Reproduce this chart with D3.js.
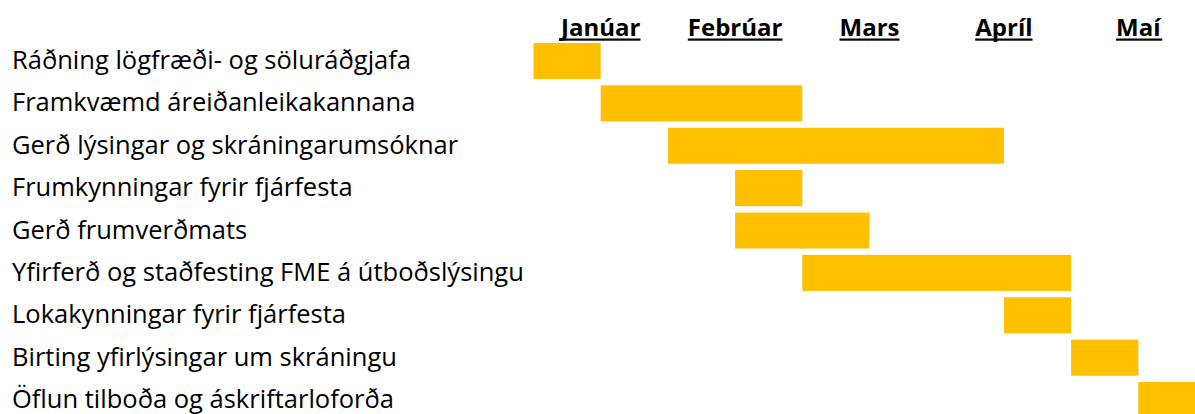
<!DOCTYPE html>
<html>
<head>
<meta charset="utf-8">
<script src="https://cdn.jsdelivr.net/npm/d3@7"></script>
<style>
  body { margin: 0; background: #fff; }
  text { font-family: "Open Sans", Lato, sans-serif; fill: #000; }
</style>
</head>
<body>
<div id="main"></div>
<script>
// tasks and their start/end in half-month steps (0 = start of January)
var tasks = [
    "Ráðning lögfræði- og söluráðgjafa",
    "Framkvæmd áreiðanleikakannana",
    "Gerð lýsingar og skráningarumsóknar",
    "Frumkynningar fyrir fjárfesta",
    "Gerð frumverðmats",
    "Yfirferð og staðfesting FME á útboðslýsingu",
    "Lokakynningar fyrir fjárfesta",
    "Birting yfirlýsingar um skráningu",
    "Öflun tilboða og áskriftarloforða"
];
var starts = [0, 1, 2, 3, 3, 4, 7, 8, 9];
var ends = [1, 4, 7, 4, 5, 8, 8, 9, 10];
var months = ["Janúar", "Febrúar", "Mars", "Apríl", "Maí"];

var ctx = { w: 1195, h: 414, left: 533.5, right: 1205.5, top: 43, rowStep: 42.375 };

var svg = d3.select("#main").append("svg")
    .attr("width", ctx.w)
    .attr("height", ctx.h);

var x = d3.scaleLinear()
    .domain([0, months.length * 2])
    .range([ctx.left, ctx.right]);

var y = d3.scaleBand()
    .domain(tasks)
    .range([ctx.top, ctx.top + ctx.rowStep * (tasks.length - 0.15)])
    .paddingInner(0.15)
    .paddingOuter(0);

// month headers
var head = svg.append("g").selectAll("g.month")
    .data(months)
    .enter().append("g")
    .attr("class", "month");

head.append("text")
    .attr("x", function (d, i) { return x(i * 2 + 1); })
    .attr("y", 36)
    .attr("text-anchor", "middle")
    .style("font-weight", "bold")
    .style("font-size", "24px")
    .text(function (d) { return d; })
    .each(function () {
        var bb = this.getBBox();
        d3.select(this.parentNode).append("rect")
            .attr("x", bb.x)
            .attr("y", 38.5)
            .attr("width", bb.width)
            .attr("height", 2.2)
            .attr("fill", "#000");
    });

// bars
svg.append("g").selectAll("rect")
    .data(tasks)
    .enter().append("rect")
    .attr("x", function (d, i) { return x(starts[i]); })
    .attr("y", function (d) { return y(d); })
    .attr("width", function (d, i) { return x(ends[i]) - x(starts[i]); })
    .attr("height", y.bandwidth())
    .attr("fill", "#FFC000");

// task labels
svg.append("g").selectAll("text")
    .data(tasks)
    .enter().append("text")
    .attr("x", 12)
    .attr("y", function (d) { return y(d) + y.bandwidth() / 2 + 8; })
    .style("font-size", "25.5px")
    .text(function (d) { return d; });
</script>
</body>
</html>
